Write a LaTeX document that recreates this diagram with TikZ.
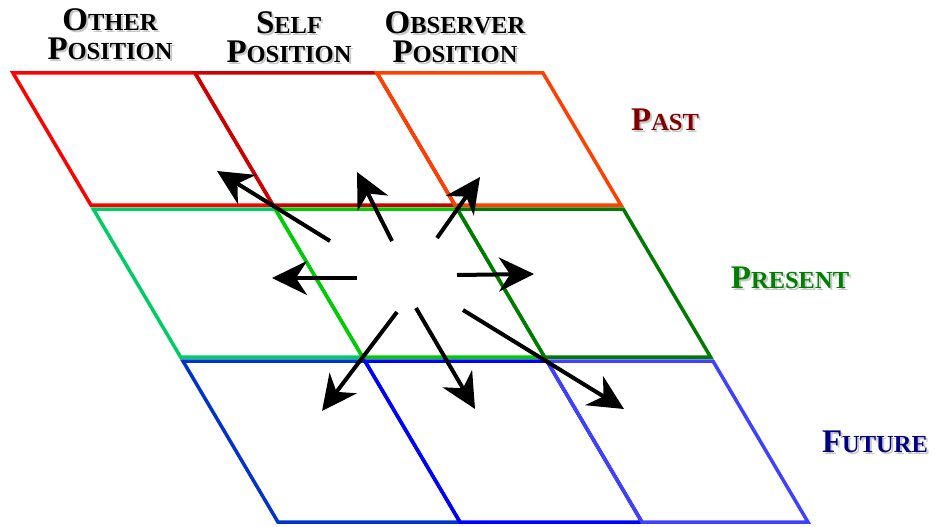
\documentclass[tikz,border=0pt]{standalone}
\usepackage{fontspec}
\setmainfont{Liberation Serif}
\usetikzlibrary{arrows.meta}
\definecolor{pastother}{HTML}{FF0000}
\definecolor{pastself}{HTML}{CC0000}
\definecolor{pastobs}{HTML}{FF4000}
\definecolor{presother}{HTML}{00CC66}
\definecolor{presself}{HTML}{00CC00}
\definecolor{presobs}{HTML}{007A00}
\definecolor{futother}{HTML}{0033CC}
\definecolor{futself}{HTML}{0000FF}
\definecolor{futobs}{HTML}{4040FF}
\definecolor{pasttext}{HTML}{800000}
\definecolor{prestext}{HTML}{008000}
\definecolor{futtext}{HTML}{000080}
% small caps by hand: big first letter, smaller rest
\newcommand{\capword}[2]{{\fontsize{33}{29}\selectfont #1}{\fontsize{24.5}{29}\selectfont #2}}
% one cell: colour, left x and right x (at y=73), top y, bottom y
\newcommand{\gridcell}[5]{%
  \draw[cellline, #1] ({#2+0.59*(#4-73)},#4) -- ({#3+0.59*(#4-73)},#4)
    -- ({#3+0.59*(#5-73)},#5) -- ({#2+0.59*(#5-73)},#5) -- cycle;}
\tikzset{
  cellline/.style={line width=3.5pt, line join=miter},
  header/.style={align=center, inner sep=0pt, anchor=north, font=\bfseries\fontsize{33}{29}\selectfont},
  rowlabel/.style={inner sep=0pt, font=\bfseries},
  shadowtext/.style={text=black!22},
  ray/.style={line width=4pt, -{Stealth[length=35pt, width=34pt, inset=11pt]}},
}

\begin{document}
\begin{tikzpicture}[x=1pt, y=-1pt]
  \useasboundingbox (0,0) rectangle (940,527);
  % past row
  \gridcell{pastother}{13}{195}{73}{205}
  \gridcell{pastself}{195}{377}{73}{205}
  \gridcell{pastobs}{377}{543}{73}{205}
  % present row
  \gridcell{presother}{13}{195}{209}{357}
  \gridcell{presself}{195}{377}{209}{357}
  \gridcell{presobs}{377}{543}{209}{357}
  % future row
  \gridcell{futother}{13}{195}{361}{522}
  \gridcell{futself}{195}{377}{361}{522}
  \gridcell{futobs}{377}{543}{361}{522}

  % column headers
  \node[header, shadowtext] (other-sh) at (112,10) {\capword{O}{THER}\\\capword{P}{OSITION}};
  \node[header] (other) at (110,8) {\capword{O}{THER}\\\capword{P}{OSITION}};
  \node[header, shadowtext] (self-sh) at (291,13) {\capword{S}{ELF}\\\capword{P}{OSITION}};
  \node[header] (self) at (289,11) {\capword{S}{ELF}\\\capword{P}{OSITION}};
  \node[header, shadowtext] (observer-sh) at (457,13) {\capword{O}{BSERVER}\\\capword{P}{OSITION}};
  \node[header] (observer) at (455,11) {\capword{O}{BSERVER}\\\capword{P}{OSITION}};

  % row labels
  \node[rowlabel, shadowtext] (past-sh) at (667,122) {\capword{P}{AST}};
  \node[rowlabel, text=pasttext] (past) at (665,120) {\capword{P}{AST}};
  \node[rowlabel, shadowtext] (present-sh) at (792,280) {\capword{P}{RESENT}};
  \node[rowlabel, text=prestext] (present) at (790,278) {\capword{P}{RESENT}};
  \node[rowlabel, shadowtext] (future-sh) at (877,444) {\capword{F}{UTURE}};
  \node[rowlabel, text=futtext] (future) at (875,442) {\capword{F}{UTURE}};

  % arrows out of the self/present cell
  \foreach \n/\a/\b in {1/{330,241}/{217,171}, 2/{392,241}/{357,172},
      3/{437,238}/{480,177}, 4/{357,278}/{272,278}, 5/{457,275}/{534,274},
      6/{397,312}/{322,411}, 7/{416,308}/{475,409}, 8/{463,310}/{624,409}}{
    \coordinate (from\n) at (\a);
    \coordinate (to\n) at (\b);
    \draw[ray] (from\n) -- (to\n);
  }
\end{tikzpicture}
\end{document}
